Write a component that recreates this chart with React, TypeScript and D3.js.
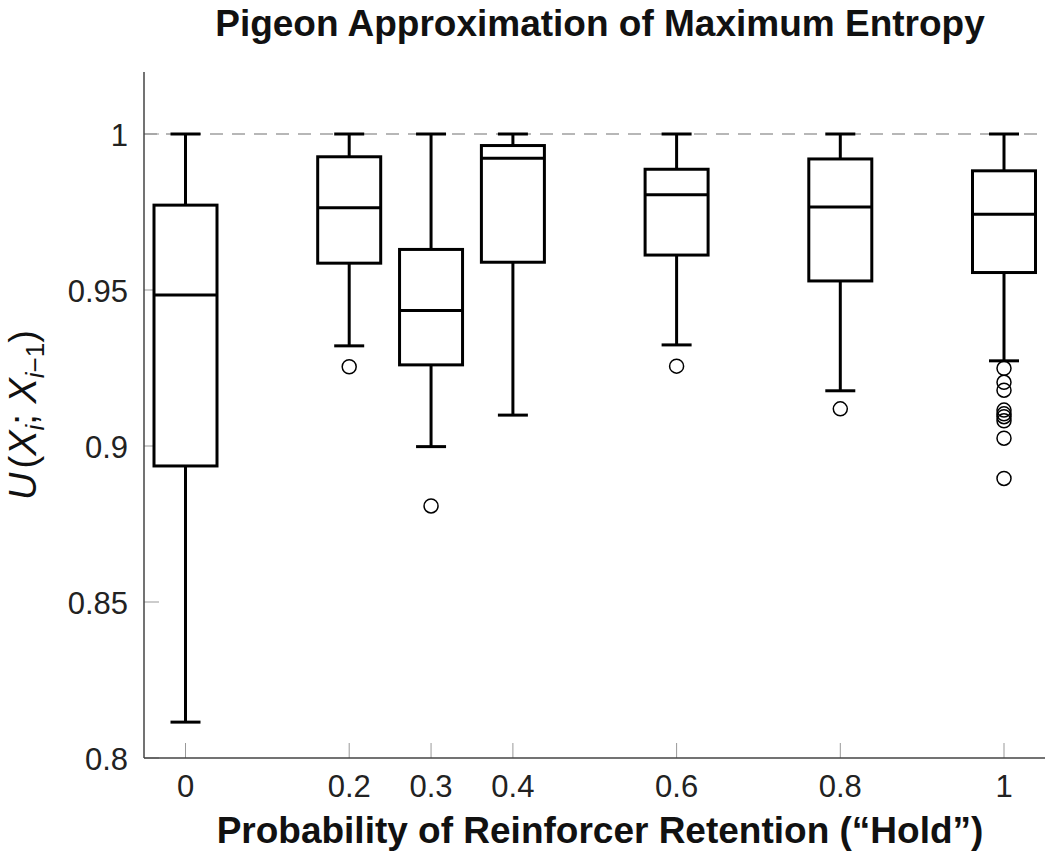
import React from "react";
import * as d3 from "d3";

const categories = [0, 0.2, 0.3, 0.4, 0.6, 0.8, 1];
const whiskerLow = [0.8115, 0.9321, 0.8998, 0.9099, 0.9324, 0.9177, 0.9273];
const q1 = [0.8936, 0.9586, 0.926, 0.9589, 0.9612, 0.9529, 0.9556];
const median = [0.9484, 0.9764, 0.9434, 0.9922, 0.9805, 0.9766, 0.9743];
const q3 = [0.9772, 0.9927, 0.963, 0.9963, 0.9887, 0.992, 0.9882];
const whiskerHigh = [1, 1, 1, 1, 1, 1, 1];
const outliers: number[][] = [
  [],
  [0.9254],
  [0.8808],
  [],
  [0.9256],
  [0.9119],
  [0.9249, 0.9204, 0.9179, 0.9115, 0.9103, 0.9094, 0.9081, 0.9025, 0.8896],
];
const yTicks = [0.8, 0.85, 0.9, 0.95, 1];
const yTickLabels = ["0.8", "0.85", "0.9", "0.95", "1"];
const xTickLabels = ["0", "0.2", "0.3", "0.4", "0.6", "0.8", "1"];
const refLine = 1;

export default function App() {
  const W = 1050, H = 858;
  const axisLeft = 144, axisRight = 1045, axisTop = 72, axisBottom = 758;
  const x = d3.scaleLinear().domain([0, 1]).range([185.5, 1004]);
  const y = d3.scaleLinear().domain([0.8, 1]).range([758, 134]);
  const boxW = 63, capW = 30;
  const font = "'Liberation Sans', Arial, sans-serif";
  const tickLen = 15;

  return (
    <svg width={W} height={H} style={{ position: "absolute", left: 0, top: 0, background: "#fff" }}>
      <rect x={0} y={0} width={W} height={H} fill="#fff" />
      {/* title */}
      <text x={600} y={36} textAnchor="middle" fontFamily={font} fontWeight="bold" fontSize={37} fill="#111">
        Pigeon Approximation of Maximum Entropy
      </text>
      {/* reference line */}
      <line x1={axisLeft} x2={axisRight} y1={y(refLine)} y2={y(refLine)} stroke="#a0a0a0" strokeWidth={1.5} strokeDasharray="13 9" />
      {/* y ticks */}
      {yTicks.map((t, i) => (
        <g key={"yt" + i}>
          <line x1={axisLeft} x2={axisLeft + tickLen} y1={y(t)} y2={y(t)} stroke="#999" strokeWidth={1} />
          <text x={128} y={y(t) + 11.5} textAnchor="end" fontFamily={font} fontSize={31} fill="#222">
            {yTickLabels[i]}
          </text>
        </g>
      ))}
      {/* x ticks */}
      {categories.map((c, i) => (
        <g key={"xt" + i}>
          <line x1={x(c)} x2={x(c)} y1={axisBottom} y2={axisBottom - tickLen} stroke="#999" strokeWidth={1} />
          <text x={x(c)} y={797} textAnchor="middle" fontFamily={font} fontSize={31} fill="#222">
            {xTickLabels[i]}
          </text>
        </g>
      ))}
      {/* boxes */}
      {categories.map((c, i) => {
        const cx = x(c);
        return (
          <g key={"b" + i}>
            <line x1={cx} x2={cx} y1={y(whiskerHigh[i])} y2={y(q3[i])} stroke="#000" strokeWidth={3} />
            <line x1={cx} x2={cx} y1={y(q1[i])} y2={y(whiskerLow[i])} stroke="#000" strokeWidth={3} />
            <line x1={cx - capW / 2} x2={cx + capW / 2} y1={y(whiskerHigh[i])} y2={y(whiskerHigh[i])} stroke="#000" strokeWidth={3} />
            <line x1={cx - capW / 2} x2={cx + capW / 2} y1={y(whiskerLow[i])} y2={y(whiskerLow[i])} stroke="#000" strokeWidth={3} />
            <rect x={cx - boxW / 2} y={y(q3[i])} width={boxW} height={y(q1[i]) - y(q3[i])} fill="#fff" stroke="#000" strokeWidth={3} />
            <line x1={cx - boxW / 2} x2={cx + boxW / 2} y1={y(median[i])} y2={y(median[i])} stroke="#000" strokeWidth={3} />
            {outliers[i].map((o, j) => (
              <circle key={j} cx={cx} cy={y(o)} r={7} fill="none" stroke="#000" strokeWidth={1.5} />
            ))}
          </g>
        );
      })}
      {/* axes */}
      <line x1={axisLeft} x2={axisLeft} y1={axisTop} y2={axisBottom} stroke="#444" strokeWidth={1.5} />
      <line x1={axisLeft} x2={axisRight} y1={axisBottom} y2={axisBottom} stroke="#444" strokeWidth={1.5} />
      {/* x label */}
      <text x={600} y={843} textAnchor="middle" fontFamily={font} fontWeight="bold" fontSize={37} fill="#111">
        Probability of Reinforcer Retention (“Hold”)
      </text>
      {/* y label */}
      <text transform={`translate(36, ${(axisTop + axisBottom) / 2}) rotate(-90)`} textAnchor="middle" fontFamily={font} fontSize={38} fill="#111">
        <tspan fontStyle="italic">U</tspan>
        <tspan dx={4}>(</tspan>
        <tspan fontStyle="italic">X</tspan>
        <tspan fontStyle="italic" fontSize={26} dy={8}>i</tspan>
        <tspan dy={-8}>; </tspan>
        <tspan fontStyle="italic">X</tspan>
        <tspan fontSize={26} dy={8}><tspan fontStyle="italic">i</tspan>−1</tspan>
        <tspan dy={-8}>)</tspan>
      </text>
    </svg>
  );
}
